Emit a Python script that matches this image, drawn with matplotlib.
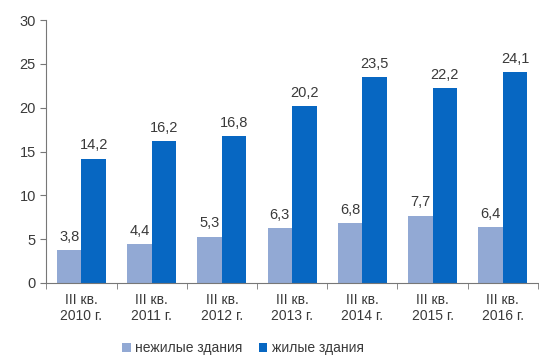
import numpy as np
import matplotlib
matplotlib.use("Agg")
import matplotlib.pyplot as plt

# -----------------------------
# Data
# -----------------------------
categories = ["III кв.\n2010 г.", "III кв.\n2011 г.", "III кв.\n2012 г.",
              "III кв.\n2013 г.", "III кв.\n2014 г.", "III кв.\n2015 г.",
              "III кв.\n2016 г."]
nonresidential = [3.8, 4.4, 5.3, 6.3, 6.8, 7.7, 6.4]
residential = [14.2, 16.2, 16.8, 20.2, 23.5, 22.2, 24.1]
series_names = ["нежилые здания", "жилые здания"]

# -----------------------------
# Plot
# -----------------------------
plt.rcParams["font.family"] = ["Liberation Sans", "DejaVu Sans"]
text_color = "#3a3a3a"
light = "#92a9d4"
dark = "#0767c2"

fig = plt.figure(figsize=(5.39, 3.6), dpi=100)
ax = fig.add_axes([0.086, 0.214, 0.912, 0.73])

x = np.arange(len(categories))
w = 0.35

b1 = ax.bar(x - w / 2, nonresidential, w, color=light, label=series_names[0])
b2 = ax.bar(x + w / 2, residential, w, color=dark, label=series_names[1])

for bars in (b1, b2):
    for rect in bars:
        h = rect.get_height()
        ax.text(rect.get_x() + rect.get_width() / 2, h + 0.7,
                f"{h:.1f}".replace(".", ","),
                ha="center", va="bottom", fontsize=10.5, color=text_color)

ax.set_xlim(-0.5, len(categories) - 0.5)
ax.set_ylim(0, 30)
ax.set_yticks(range(0, 31, 5))
ax.set_xticks(x)
ax.set_xticklabels(categories, fontsize=10, color=text_color, linespacing=1.25)
ax.set_xticks(np.arange(-0.5, len(categories), 1), minor=True)
ax.tick_params(axis="x", which="major", length=0, pad=7)
ax.tick_params(axis="x", which="minor", length=4, color="#777777", direction="out")
ax.tick_params(axis="y", labelsize=10.5, labelcolor=text_color, length=4,
               color="#777777", direction="out")

for side in ("top", "right"):
    ax.spines[side].set_visible(False)
for side in ("left", "bottom"):
    ax.spines[side].set_color("#777777")

ax.legend(loc="upper center", bbox_to_anchor=(0.4, -0.185), ncol=2,
          frameon=False, fontsize=10, handlelength=0.6, handleheight=0.6,
          handletextpad=0.3, columnspacing=1.2, labelcolor=text_color,
          borderpad=0.2)

fig.savefig("out.png", dpi=100)
